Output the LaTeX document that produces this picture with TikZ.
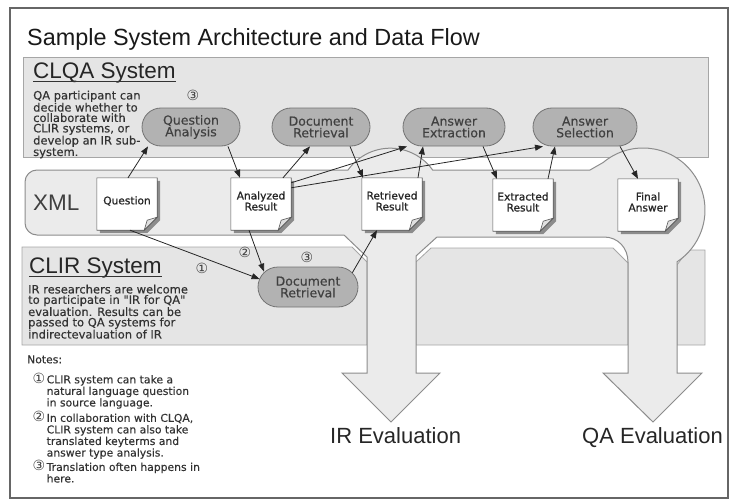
\documentclass[tikz,border=0pt]{standalone}
\usepackage{fontspec}
\setmainfont{DejaVu Sans}
\newfontfamily\bigfont{Liberation Sans}
\newfontfamily\medfont[FakeBold=0.35]{DejaVu Sans}
\newfontfamily\docfont[FakeBold=0.9]{DejaVu Sans}
\usetikzlibrary{arrows.meta}
\newcommand\circnum[1]{\makebox[19.5pt][l]{\hspace{5.5pt}\smash{\normalfont\fontsize{14}{14}\selectfont\color{black!75}#1}}}
\newcommand\docpaper[1]{%
  \fill[black!45] ([shift={(3,3)}]#1.north west) -- ([shift={(3,3)}]#1.north east) -- ([shift={(3,-10)}]#1.south east) -- ([shift={(-10,3)}]#1.south east) -- ([shift={(3,3)}]#1.south west) -- cycle;
  \filldraw[fill=white,draw=black!65,line width=0.6pt] (#1.north west) -- (#1.north east) -- ([shift={(0,-13)}]#1.south east) -- ([shift={(-13,0)}]#1.south east) -- (#1.south west) -- cycle;
  \filldraw[fill=black!12,draw=black!65,line width=0.6pt] ([shift={(0,-13)}]#1.south east) -- ([shift={(-13,0)}]#1.south east) -- ([shift={(-10,-10)}]#1.south east) -- cycle;
}
\begin{document}
\begin{tikzpicture}[x=1pt,y=-1pt,
  panel/.style={fill=black!10,draw=black!35,line width=0.8pt},
  xmlshape/.style={fill=black!8,draw=black!45,line width=1pt},
  pill/.style={rectangle,rounded corners=19pt,fill=black!30,draw=black!55,line width=0.8pt,minimum height=38pt,inner sep=0pt,align=center,font=\medfont\fontsize{12.5}{11.7}\selectfont,text=black!75},
  doc/.style={rectangle,minimum width=60pt,minimum height=52pt,inner sep=0pt},
  doctext/.style={font=\docfont\fontsize{10.6}{11}\selectfont,align=center,text=black!85,inner sep=0pt},
  flow/.style={-{Triangle[length=8pt,width=6pt]},line width=0.8pt,draw=black!85},
  small/.style={font=\medfont\fontsize{11.5}{10.4}\selectfont,align=left,anchor=north west,inner sep=0pt,text=black!80},
  note/.style={font=\medfont\fontsize{10.8}{11.2}\selectfont,anchor=north west,inner sep=0pt,text=black!80},
  circ/.style={font=\fontsize{14}{14}\selectfont,inner sep=0pt,text=black!75},
  big/.style={font=\bigfont\fontsize{22.5}{26}\selectfont,anchor=base west,inner sep=0pt,text=black!85},
  uline/.style={draw=black!80,line width=1.1pt}
]
\useasboundingbox (0,0) rectangle (734,503);
\draw[black!60,line width=1.2pt] (10,8) rectangle (728,498);

% panels
\draw[panel] (23,57) rectangle (708,157);
\draw[panel] (22,247) -- (352,247) -- (367,262) -- (367,345) -- (22,345) -- cycle;
\draw[panel] (416,262) -- (431,248) -- (613,248) -- (628,263) -- (628,345) -- (416,345) -- cycle;
\draw[panel] (677,265) -- (688,250) -- (705,250) -- (705,345) -- (677,345) -- cycle;

% XML band with evaluation arrows
\draw[xmlshape] (25,200) {[rounded corners=12pt] -- (25,170) -- (200,170)} -- (348,170)
  arc[start angle=215.5,end angle=324.5,radius=52] -- (590,170) -- (603.15,162.51)
  arc[start angle=230,end angle=416.7,radius=62] -- (677,373) -- (702,373) -- (653,422) -- (603,373) -- (628,373)
  -- (628,262) .. controls (628,248) and (618,237) .. (604,237) -- (437,237) -- (416,256) -- (416,373) -- (440,373)
  -- (391,422) -- (342,373) -- (367,373) -- (367,257) -- (344,235) {[rounded corners=12pt] -- (25,235) -- (25,200)} -- cycle;

% title and labels
\node[big,font=\bigfont\fontsize{23.4}{28}\selectfont,text=black!90] (title) at (27,46) {Sample System Architecture and Data Flow};
\node[big] (clqa) at (33,78) {CLQA System};
\draw[uline] ([shift={(0,3.5)}]clqa.base west) -- ([shift={(0,3.5)}]clqa.base east);
\node[big] (clir) at (29,273) {CLIR System};
\draw[uline] ([shift={(0,3.5)}]clir.base west) -- ([shift={(0,3.5)}]clir.base east);
\node[big,text=black!75] (xml) at (33,210) {XML};
\node[big,font=\bigfont\fontsize{22}{26}\selectfont] (ireval) at (330,443) {IR Evaluation};
\node[big,font=\bigfont\fontsize{22}{26}\selectfont] (qaeval) at (582,443) {QA Evaluation};

\node[small] (clqatext) at (33,90.5) {QA participant can\\decide whether to\\collaborate with\\CLIR systems, or\\develop an IR sub-\\system.};
\node[small] (clirtext) at (28,284.5) {IR researchers are welcome\\to participate in "IR for QA"\\evaluation. Results can be\\passed to QA systems for\\indirectevaluation of IR};

% pills
\node[pill,minimum width=98pt] (qa) at (191,127) {Question\\Analysis};
\node[pill,minimum width=98pt] (dr1) at (321,127) {Document\\Retrieval};
\node[pill,minimum width=102pt] (ae) at (454,127) {Answer\\Extraction};
\node[pill,minimum width=104pt] (asel) at (585,127) {Answer\\Selection};
\node[pill,minimum width=100pt,minimum height=40pt,rounded corners=20pt] (dr2) at (308,287) {Document\\Retrieval};

% documents
\node[doc] (qdoc) at (127,204) {};
\docpaper{qdoc}
\node[doctext] at ([shift={(0,-3)}]qdoc.center) {Question};
\node[doc] (ar) at (261,204) {};
\docpaper{ar}
\node[doctext] at ([shift={(0,-3)}]ar.center) {Analyzed\\Result};
\node[doc] (rr) at (392,204) {};
\docpaper{rr}
\node[doctext] at ([shift={(0,-3)}]rr.center) {Retrieved\\Result};
\node[doc] (er) at (523,205) {};
\docpaper{er}
\node[doctext] at ([shift={(0,-3)}]er.center) {Extracted\\Result};
\node[doc] (fa) at (648,205) {};
\docpaper{fa}
\node[doctext] at ([shift={(0,-3)}]fa.center) {Final\\Answer};

% arrows
\draw[flow] ([shift={(1,0)}]qdoc.north) -- ([shift={(-43,0)}]qa.south);
\draw[flow] ([shift={(37,0)}]qa.south) -- ([shift={(-21,0)}]ar.north);
\draw[flow] ([shift={(22,0)}]ar.north) -- ([shift={(-11,0)}]dr1.south);
\draw[flow] ([shift={(29,0)}]dr1.south) -- ([shift={(-29,0)}]rr.north);
\draw[flow] ([shift={(0,5)}]ar.north east) -- ([shift={(-47,0)}]ae.south);
\draw[flow] ([shift={(0,10)}]ar.north east) -- ([shift={(-42,0)}]asel.south);
\draw[flow] ([shift={(26,0)}]rr.north) -- ([shift={(-31,0)}]ae.south);
\draw[flow] ([shift={(29,0)}]ae.south) -- ([shift={(-26,0)}]er.north);
\draw[flow] ([shift={(25,0)}]er.north) -- ([shift={(-30,0)}]asel.south);
\draw[flow] ([shift={(35,0)}]asel.south) -- ([shift={(-10,0)}]fa.north);
\draw[flow] ([shift={(3,0)}]qdoc.south) -- ([shift={(2,-8)}]dr2.west);
\draw[flow] ([shift={(-12,0)}]ar.south) -- ([shift={(-44,5)}]dr2.north);
\draw[flow] ([shift={(-6,6)}]dr2.north east) -- ([shift={(-15,0)}]rr.south);

% circled markers
\node[circ] (m3a) at (193,95) {③};
\node[circ] (m1) at (202,268) {①};
\node[circ] (m2) at (245,252) {②};
\node[circ] (m3b) at (307,257) {③};

% notes
\node[note] (notes) at (27,355.2) {\begin{tabular}{@{}l@{}l@{}}
\multicolumn{2}{@{}l@{}}{Notes:}\\[8.5pt]
\circnum{①} & CLIR system can take a\\
 & natural language question\\
 & in source language.\\[3.8pt]
\circnum{②} & In collaboration with CLQA,\\
 & CLIR system can also take\\
 & translated keyterms and\\
 & answer type analysis.\\[2.8pt]
\circnum{③} & Translation often happens in\\
 & here.
\end{tabular}};
\end{tikzpicture}
\end{document}
